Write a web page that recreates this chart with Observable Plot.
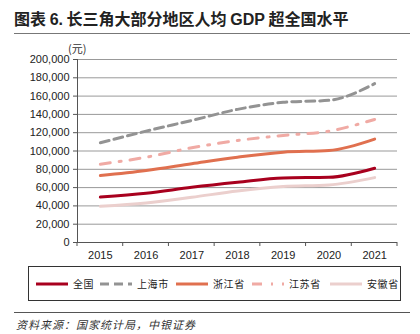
<!DOCTYPE html>
<html><head><meta charset="utf-8">
<script src="https://cdn.jsdelivr.net/npm/d3@7"></script>
<script src="https://cdn.jsdelivr.net/npm/@observablehq/plot@0.6"></script>
<style>
body{margin:0;background:#fff;width:420px;height:334px;overflow:hidden;position:relative;font-family:"Noto Sans CJK SC",sans-serif;}
#title{position:absolute;left:14px;top:6px;font-size:16px;font-weight:bold;color:#222;white-space:nowrap}
#title .lat{font-family:Arial,"Liberation Sans",sans-serif}
#rule1{position:absolute;left:14px;top:33px;width:396px;height:0;border-top:1.5px solid #777}
#chart{position:absolute;left:0;top:38px}
#unit{position:absolute;left:68px;top:40px;font-size:11px;color:#333}
#legend{position:absolute;left:28px;top:266px;width:373px;height:35px;border:1px solid #333;box-sizing:border-box}
#rule2{position:absolute;left:14px;top:312px;width:396px;height:0;border-top:1px solid #555}
#source{position:absolute;left:16px;top:316px;font-size:11px;font-style:italic;color:#333;white-space:nowrap;letter-spacing:1px}
</style></head><body>
<div id="title">图表 <span class="lat">6.</span> 长三角大部分地区人均 <span class="lat">GDP</span> 超全国水平</div>
<div id="rule1"></div>
<div id="chart"></div>
<div id="unit">(元)</div>
<div id="legend"></div>
<div id="rule2"></div>
<div id="source">资料来源：国家统计局，中银证券</div>
<script>
const years = [2015, 2016, 2017, 2018, 2019, 2020, 2021];
const seriesNames = ["全国", "上海市", "浙江省", "江苏省", "安徽省"];
const national = [49700, 53800, 60300, 65800, 70600, 71300, 81200];
const shanghai = [109000, 121700, 133400, 145500, 153200, 155400, 173600];
const zhejiang = [73100, 78600, 86000, 93200, 98700, 100500, 113000];
const jiangsu = [85600, 93200, 103500, 111500, 117000, 121700, 134500];
const anhui = [39500, 43200, 49400, 56300, 61100, 62900, 70900];
const yTicks = [0, 20000, 40000, 60000, 80000, 100000, 120000, 140000, 160000, 180000, 200000];

const colors = ["#A8001E", "#939393", "#E0704F", "#F0AAA4", "#EBCFCD"];
const dashes = [null, "9,5", null, "10,9,2,9", null];
const values = [national, shanghai, zhejiang, jiangsu, anhui];

const data = [];
seriesNames.forEach((s, i) => years.forEach((y, j) => data.push({series: s, year: y, value: values[i][j]})));

const boundaries = d3.range(years[0] - 0.5, years[years.length - 1] + 1, 1);

const marks = [
  Plot.ruleY(yTicks.slice(1), {stroke: "#999", strokeWidth: 1}),
  Plot.axisY({ticks: yTicks, tickFormat: d3.format(","), tickSize: 4, tickPadding: 4, label: null, fontSize: 11, color: "#222", stroke: "#555"}),
  Plot.axisX({ticks: years, tickFormat: d => String(d), tickSize: 0, tickPadding: 9, label: null, fontSize: 11}),
];
seriesNames.forEach((s, i) => {
  marks.push(Plot.line(data.filter(d => d.series === s), {
    x: "year", y: "value", stroke: colors[i], strokeWidth: 3,
    strokeDasharray: dashes[i], curve: "monotone-x"
  }));
});
marks.push(Plot.ruleX([years[0] - 0.5], {stroke: "#555"}));
marks.push(Plot.ruleY([0], {stroke: "#555"}));

const chart = Plot.plot({
  width: 420, height: 222,
  marginLeft: 77, marginRight: 23, marginTop: 21, marginBottom: 18,
  style: {fontFamily: "Arial, 'Liberation Sans', sans-serif", fontSize: "11px", color: "#222", background: "white"},
  x: {type: "linear", domain: [years[0] - 0.5, years[years.length - 1] + 0.5]},
  y: {type: "linear", domain: [0, 200000]},
  marks
});
document.getElementById("chart").appendChild(chart);

// x tick marks below axis at band boundaries
const xs = chart.scale("x"), ys = chart.scale("y");
const g = d3.select(chart).append("g");
boundaries.forEach(b => {
  g.append("line").attr("x1", xs.apply(b)).attr("x2", xs.apply(b))
    .attr("y1", ys.apply(0)).attr("y2", ys.apply(0) + 4).attr("stroke", "#555");
});

// legend
const leg = d3.select("#legend").append("svg").attr("width", 373).attr("height", 34);
const legX = [7, 71, 147, 223, 301];
seriesNames.forEach((s, i) => {
  const x0 = legX[i];
  leg.append("line").attr("x1", x0).attr("x2", x0 + 32).attr("y1", 17).attr("y2", 17)
    .attr("stroke", colors[i]).attr("stroke-width", 3)
    .attr("stroke-dasharray", dashes[i] || null);
  leg.append("text").attr("x", x0 + 37).attr("y", 21).text(s)
    .attr("font-size", 10).attr("fill", "#222").attr("letter-spacing", 0.6)
    .attr("font-family", "'Noto Sans CJK SC', sans-serif");
});
</script>
</body></html>
